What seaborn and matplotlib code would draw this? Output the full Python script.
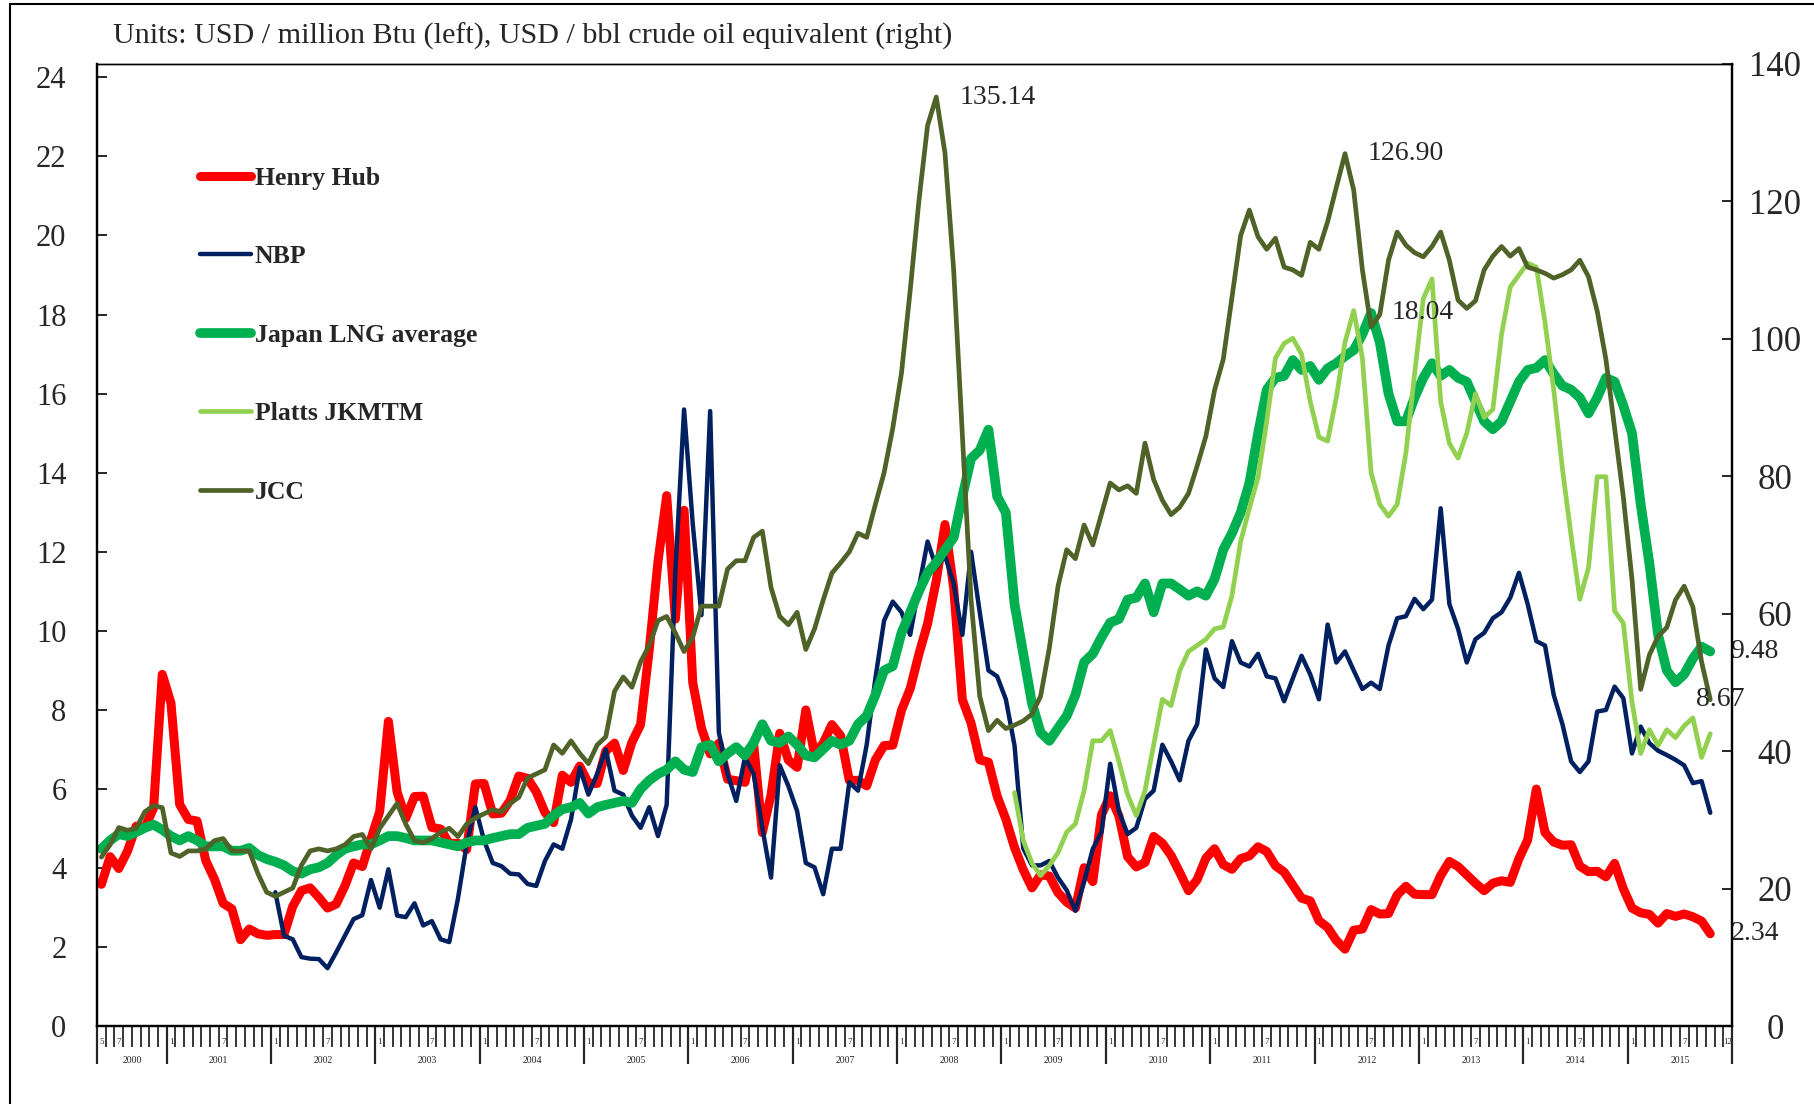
import numpy as np
import pandas as pd
import seaborn as sns
import matplotlib.pyplot as plt
from matplotlib.lines import Line2D

# category axis: one slot per month, May 2000 - Dec 2015
months = pd.period_range("2000-05", "2015-12", freq="M")

# Henry Hub, USD/MMBtu (May 2000 - Oct 2015)
henry_hub_start = "2000-05"
henry_hub = [
    3.59, 4.29, 3.99, 4.43, 5.06, 5.02, 5.52, 8.90,
    8.17, 5.61, 5.23, 5.19, 4.19, 3.72, 3.11, 2.97, 2.19, 2.46, 2.34, 2.30,
    2.32, 2.32, 3.03, 3.43, 3.50, 3.26, 2.99, 3.09, 3.55, 4.13, 4.04, 4.74,
    5.43, 7.71, 5.93, 5.26, 5.81, 5.82, 5.03, 4.99, 4.62, 4.63, 4.47, 6.13,
    6.14, 5.37, 5.39, 5.71, 6.33, 6.27, 5.93, 5.41, 5.15, 6.35, 6.17, 6.58,
    6.15, 6.14, 6.96, 7.16, 6.47, 7.18, 7.63, 9.53, 11.75, 13.42, 10.30, 13.05,
    8.69, 7.54, 6.89, 7.16, 6.25, 6.21, 6.17, 7.14, 4.90, 5.85, 7.41, 6.73,
    6.55, 8.00, 6.89, 7.16, 7.63, 7.35, 6.22, 6.22, 6.08, 6.74, 7.10, 7.11,
    7.99, 8.54, 9.41, 10.18, 11.27, 12.69, 11.09, 8.26, 7.67, 6.74, 6.68, 5.82,
    5.24, 4.52, 3.96, 3.50, 3.83, 3.80, 3.38, 3.14, 2.99, 4.01, 3.66, 5.35,
    5.83, 5.32, 4.29, 4.03, 4.14, 4.80, 4.63, 4.32, 3.89, 3.43, 3.71, 4.25,
    4.49, 4.09, 3.97, 4.24, 4.31, 4.54, 4.42, 4.06, 3.90, 3.57, 3.24, 3.17,
    2.67, 2.50, 2.17, 1.95, 2.43, 2.46, 2.95, 2.84, 2.85, 3.32, 3.54, 3.34,
    3.33, 3.33, 3.81, 4.17, 4.04, 3.83, 3.62, 3.43, 3.62, 3.68, 3.64, 4.24,
    4.71, 6.00, 4.90, 4.66, 4.58, 4.59, 4.05, 3.91, 3.92, 3.78, 4.12, 3.48,
    2.99, 2.87, 2.83, 2.61, 2.85, 2.78, 2.84, 2.77, 2.66, 2.34,
]

# NBP, USD/MMBtu (Jan 2002 - Oct 2015)
nbp_start = "2002-01"
nbp = [
    3.39, 2.29, 2.20, 1.75, 1.71, 1.70, 1.47, 1.87, 2.29, 2.71, 2.81, 3.70,
    3.00, 3.97, 2.80, 2.76, 3.11, 2.55, 2.66, 2.20, 2.13, 3.23, 4.60, 5.54,
    4.70, 4.13, 4.05, 3.86, 3.84, 3.60, 3.55, 4.18, 4.60, 4.49, 5.23, 6.54,
    5.86, 6.38, 7.00, 5.96, 5.86, 5.33, 5.02, 5.54, 4.81, 5.60, 11.50, 15.60,
    12.70, 10.40, 15.56, 7.43, 6.38, 5.70, 6.80, 6.38, 5.02, 3.76, 6.60, 6.07,
    5.44, 4.13, 4.02, 3.34, 4.49, 4.49, 6.17, 5.96, 7.12, 8.80, 10.26, 10.74,
    10.47, 9.90, 11.10, 12.26, 11.60, 11.90, 11.20, 9.90, 12.00, 10.47, 9.00, 8.85,
    8.27, 7.10, 4.50, 4.07, 4.07, 4.18, 3.76, 3.44, 2.92, 3.65, 4.49, 4.91,
    6.64, 5.44, 4.86, 5.02, 5.75, 5.96, 7.12, 6.70, 6.22, 7.22, 7.64, 9.53,
    8.80, 8.58, 9.74, 9.20, 9.10, 9.42, 8.85, 8.80, 8.22, 8.80, 9.37, 8.90,
    8.27, 10.16, 9.20, 9.48, 9.00, 8.53, 8.69, 8.53, 9.63, 10.32, 10.37, 10.81,
    10.55, 10.79, 13.10, 10.68, 10.05, 9.20, 9.79, 9.95, 10.32, 10.47, 10.84, 11.47,
    10.68, 9.74, 9.63, 8.38, 7.64, 6.70, 6.43, 6.70, 7.96, 8.00, 8.59, 8.30,
    6.90, 7.58, 7.16, 6.97, 6.86, 6.74, 6.60, 6.15, 6.20, 5.40,
]

# Japan LNG average, USD/MMBtu (May 2000 - Oct 2015)
japan_lng_start = "2000-05"
japan_lng = [
    4.49, 4.70, 4.86, 4.81, 4.91, 5.02, 5.10, 4.97,
    4.81, 4.70, 4.81, 4.70, 4.55, 4.55, 4.55, 4.44, 4.44, 4.51, 4.33, 4.23,
    4.16, 4.07, 3.92, 3.86, 3.97, 4.02, 4.13, 4.33, 4.49, 4.55, 4.60, 4.60,
    4.70, 4.81, 4.81, 4.76, 4.70, 4.70, 4.70, 4.65, 4.60, 4.55, 4.65, 4.70,
    4.70, 4.76, 4.81, 4.86, 4.86, 5.02, 5.07, 5.12, 5.33, 5.49, 5.54, 5.65,
    5.38, 5.54, 5.60, 5.65, 5.70, 5.65, 6.00, 6.22, 6.38, 6.49, 6.70, 6.49,
    6.43, 7.06, 7.12, 6.70, 6.90, 7.06, 6.85, 7.17, 7.64, 7.22, 7.17, 7.33,
    7.12, 6.85, 6.80, 7.01, 7.22, 7.12, 7.22, 7.64, 7.85, 8.38, 9.00, 9.11,
    9.95, 10.47, 11.00, 11.47, 11.73, 12.05, 12.36, 13.40, 14.36, 14.57, 15.09, 13.40,
    12.99, 10.68, 9.42, 8.17, 7.43, 7.22, 7.54, 7.85, 8.38, 9.21, 9.42, 9.84,
    10.21, 10.30, 10.79, 10.84, 11.20, 10.47, 11.20, 11.20, 11.05, 10.89, 11.00, 10.89,
    11.31, 12.05, 12.47, 12.99, 13.73, 14.99, 16.10, 16.40, 16.45, 16.85, 16.60, 16.70,
    16.35, 16.64, 16.77, 16.95, 17.10, 17.50, 18.04, 17.30, 16.00, 15.30, 15.30, 15.90,
    16.40, 16.77, 16.45, 16.60, 16.40, 16.30, 15.80, 15.30, 15.10, 15.30, 15.80, 16.30,
    16.60, 16.65, 16.85, 16.50, 16.20, 16.10, 15.90, 15.50, 15.90, 16.40, 16.30, 15.70,
    15.00, 13.20, 11.70, 9.90, 9.00, 8.70, 8.90, 9.30, 9.60, 9.48,
]

# Platts JKM, USD/MMBtu (Feb 2009 - Oct 2015)
jkm_start = "2009-02"
jkm = [
    5.91, 4.70, 4.13, 3.81, 4.07, 4.39, 4.91, 5.12, 5.96, 7.22, 7.22,
    7.48, 6.70, 5.86, 5.33, 5.96, 7.12, 8.27, 8.11, 9.00, 9.48, 9.63, 9.79,
    10.05, 10.10, 10.89, 12.26, 13.10, 13.88, 15.30, 16.90, 17.27, 17.40, 17.00, 15.80,
    14.90, 14.80, 15.90, 17.30, 18.10, 16.90, 14.00, 13.20, 12.90, 13.20, 14.50, 16.50,
    18.40, 18.90, 15.80, 14.74, 14.37, 15.00, 16.00, 15.40, 15.60, 17.50, 18.70, 19.00,
    19.30, 19.20, 17.80, 16.10, 14.10, 12.40, 10.80, 11.60, 13.90, 13.90, 10.50, 10.20,
    8.20, 6.90, 7.50, 7.10, 7.50, 7.30, 7.60, 7.80, 6.80, 7.40,
]

# JCC, USD/bbl (May 2000 - Oct 2015), right axis
jcc_start = "2000-05"
jcc = [
    24.6, 26.4, 28.9, 28.5, 28.8, 31.2, 32.1, 31.8,
    25.2, 24.7, 25.5, 25.5, 25.8, 27.0, 27.3, 25.5, 25.5, 25.5, 22.2, 19.5,
    18.9, 19.5, 20.1, 23.4, 25.5, 25.8, 25.5, 25.8, 26.4, 27.6, 27.9, 25.8,
    28.8, 30.6, 32.4, 29.4, 27.0, 26.7, 27.3, 28.2, 28.8, 27.6, 29.4, 30.3,
    30.9, 31.5, 31.2, 32.4, 33.3, 36.1, 36.7, 37.3, 40.9, 39.7, 41.5, 39.7,
    38.2, 40.9, 42.1, 48.7, 50.8, 49.3, 53.0, 55.4, 59.0, 59.6, 57.2, 54.5,
    56.6, 61.1, 61.1, 61.1, 66.5, 67.7, 67.7, 71.1, 72.0, 63.8, 59.6, 58.4,
    60.2, 54.8, 57.8, 62.0, 65.9, 67.4, 69.0, 71.7, 71.1, 75.9, 80.5, 87.0,
    95.0, 107.0, 120.0, 131.0, 135.14, 127.0, 110.0, 86.0, 62.0, 48.0, 43.0, 44.5,
    43.3, 43.8, 44.4, 45.4, 48.0, 55.0, 64.0, 69.3, 68.0, 72.9, 70.0, 74.5,
    79.0, 78.0, 78.6, 77.5, 84.8, 79.5, 76.5, 74.4, 75.5, 77.5, 81.5, 85.8,
    92.5, 97.0, 106.0, 115.0, 118.7, 114.8, 113.0, 114.6, 110.4, 110.0, 109.2, 114.0,
    113.0, 117.0, 122.0, 126.9, 121.6, 110.0, 101.7, 103.5, 111.4, 115.5, 113.6, 112.5,
    111.9, 113.4, 115.5, 111.4, 105.6, 104.4, 105.5, 110.0, 112.0, 113.4, 112.0, 113.1,
    110.4, 110.0, 109.5, 108.8, 109.3, 110.0, 111.4, 109.0, 104.0, 97.0, 87.0, 77.0,
    65.0, 49.0, 54.0, 56.7, 58.0, 62.0, 64.0, 61.0, 53.0, 47.5,
]

BBL_PER_MMBTU = 5.75  # crude oil equivalent: 140 USD/bbl on the right = 24.35 on the left


def frame(start, values):
    i0 = months.get_loc(pd.Period(start, freq="M"))
    x = np.arange(i0, i0 + len(values)) + 0.5
    return pd.DataFrame({"x": x, "y": values})


sns.set_style("white", {"axes.edgecolor": "black"})
plt.rcParams["font.family"] = ["Liberation Serif", "DejaVu Serif"]

fig = plt.figure(figsize=(18.14, 11.04), dpi=100)
ax = fig.add_axes([0.0535, 0.0704, 0.9013, 0.872])
ax2 = ax.twinx()

line_kw = dict(solid_capstyle="round", solid_joinstyle="round", legend=False)
sns.lineplot(data=frame(henry_hub_start, henry_hub), x="x", y="y", ax=ax,
             color="#FF0000", linewidth=6.5, **line_kw)
sns.lineplot(data=frame(nbp_start, nbp), x="x", y="y", ax=ax,
             color="#002060", linewidth=3.2, **line_kw)
sns.lineplot(data=frame(japan_lng_start, japan_lng), x="x", y="y", ax=ax,
             color="#00B050", linewidth=7, **line_kw)
sns.lineplot(data=frame(jkm_start, jkm), x="x", y="y", ax=ax,
             color="#92D050", linewidth=3.4, **line_kw)
sns.lineplot(data=frame(jcc_start, jcc), x="x", y="y", ax=ax2,
             color="#4F6228", linewidth=3.4, **line_kw)

handles = list(ax.lines) + list(ax2.lines)
labels = ["Henry Hub", "NBP", "Japan LNG average", "Platts JKMTM", "JCC"]

# axes
n = len(months)
ax.set_xlim(0, n)
ax.set_ylim(0, 140 / BBL_PER_MMBTU)
ax2.set_ylim(0, 140)
ax.set_yticks(range(0, 25, 2))
ax2.set_yticks(range(0, 141, 20))
for a in (ax, ax2):
    a.set_xlabel("")
    a.set_ylabel("")
    for s in a.spines.values():
        s.set_color("black")
        s.set_linewidth(1.6)
    a.spines["top"].set_linewidth(1.0)

ax.tick_params(axis="y", direction="in", length=7, width=1.4, pad=22,
               labelsize=22, left=True)
ax2.tick_params(axis="y", direction="in", length=7, width=1.4, pad=31,
                labelsize=25, right=True)
plt.setp(ax2.get_yticklabels(), ha="center")

jan_idx = [i for i, p in enumerate(months) if p.month == 1]
ax.set_xticks([0] + jan_idx + [n])
ax.set_xticks(np.arange(0, n + 1), minor=True)
ax.set_xticklabels([])
ax.tick_params(axis="x", which="major", direction="out", length=27, width=1.6,
               bottom=True)
ax.tick_params(axis="x", which="minor", direction="out", length=15, width=1.3,
               bottom=True)

xtr = ax.get_xaxis_transform()
for i, p in enumerate(months):
    if p.month in (1, 7) or i == 0 or i == n - 1:
        ax.annotate(str(p.month), xy=(i + 0.5, 0), xycoords=xtr,
                    xytext=(0, -11.5), textcoords="offset points",
                    ha="center", va="center", fontsize=6.5)
for yr in range(months[0].year, months[-1].year + 1):
    idx = [i for i, p in enumerate(months) if p.year == yr]
    ax.annotate(str(yr), xy=((idx[0] + idx[-1] + 1) / 2, 0), xycoords=xtr,
                xytext=(0, -24.5), textcoords="offset points",
                ha="center", va="center", fontsize=7)

# value labels
def xpos(start, k):
    return months.get_loc(pd.Period(start, freq="M")) + k + 0.5

k = int(np.argmax(jcc))
ax2.annotate(f"{jcc[k]:.2f}", xy=(xpos(jcc_start, k), jcc[k]),
             xytext=(17, 0), textcoords="offset points", va="center", fontsize=20)
k2 = 120 + int(np.argmax(jcc[120:]))
ax2.annotate(f"{jcc[k2]:.2f}", xy=(xpos(jcc_start, k2), jcc[k2]),
             xytext=(16, 0), textcoords="offset points", va="center", fontsize=20)
k3 = int(np.argmax(japan_lng))
ax.annotate(f"{japan_lng[k3]:.2f}", xy=(xpos(japan_lng_start, k3), japan_lng[k3]),
            xytext=(15, 0), textcoords="offset points", va="center", fontsize=20)
kl = len(japan_lng) - 1
ax.annotate(f"{japan_lng[kl]:.2f}", xy=(xpos(japan_lng_start, kl), japan_lng[kl]),
            xytext=(14, 0), textcoords="offset points", va="center", fontsize=20)
kh = len(henry_hub) - 1
ax.annotate(f"{henry_hub[kh]:.2f}", xy=(xpos(henry_hub_start, kh), henry_hub[kh]),
            xytext=(15, 0), textcoords="offset points", va="center", fontsize=20)
kj = len(jcc) - 1
ax2.annotate("8.67", xy=(xpos(jcc_start, kj), jcc[kj]),
             xytext=(-10, 0), textcoords="offset points", va="center", fontsize=20)

ax2.legend(handles, labels, loc="upper left", bbox_to_anchor=(0.063, 0.893),
           frameon=False, prop={"size": 18.5, "weight": "bold"},
           handlelength=2.0, handletextpad=0.12, labelspacing=2.16,
           borderpad=0, borderaxespad=0)

fig.text(0.0623, 0.9674,
         "Units: USD / million Btu (left), USD / bbl crude oil equivalent (right)",
         fontsize=21.7, va="center", ha="left")

# outer chart frame (top and left edges visible)
fig.add_artist(Line2D([0.0055, 1.0], [0.9964, 0.9964], transform=fig.transFigure,
                      color="black", linewidth=1.5))
fig.add_artist(Line2D([0.0055, 0.0055], [0.0, 0.9964], transform=fig.transFigure,
                      color="black", linewidth=1.5))

fig.savefig("out.png", dpi=100)
